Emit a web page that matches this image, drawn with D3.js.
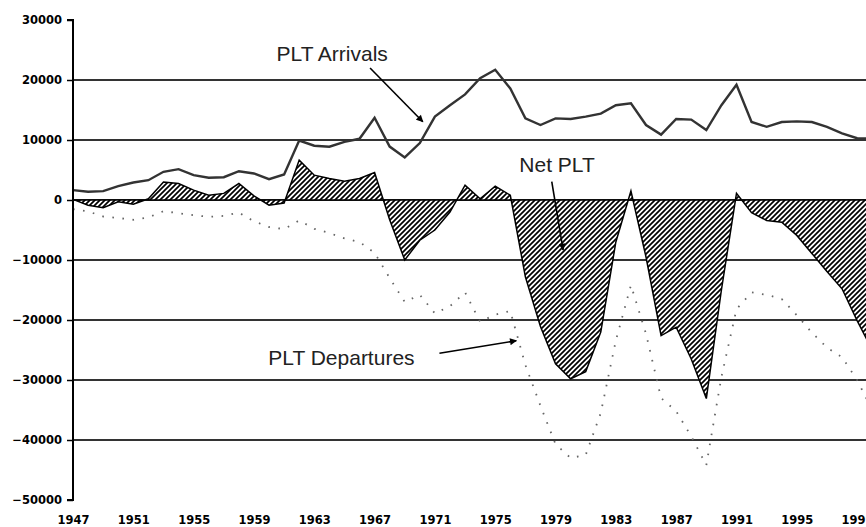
<!DOCTYPE html>
<html>
<head>
<meta charset="utf-8">
<script src="https://cdn.jsdelivr.net/npm/d3@7"></script>
<style>
  body { margin: 0; background: #fff; }
  svg { display: block; }
  .tick text { font-family: "DejaVu Sans", sans-serif; font-weight: bold; font-size: 11.5px; fill: #000; }
  .note { font-family: "Liberation Sans", Arial, sans-serif; font-size: 21px; fill: #222; }
</style>
</head>
<body>
<div id="chart"></div>
<script>
// years 1947..2000, one value per year
var years = d3.range(1947, 2001)

var arrivals = [1640, 1370, 1470, 2300, 2920, 3300, 4700, 5140, 4140, 3700,
  3800, 4800, 4420, 3470, 4250, 9900, 9040, 8880, 9700, 10200,
  13700, 8900, 7100, 9500, 13900, 15800, 17600, 20300, 21700, 18600,
  13600, 12500, 13600, 13500, 13900, 14400, 15800, 16100, 12500, 10900,
  13500, 13400, 11650, 15800, 19200, 13000, 12200, 13000, 13100, 13000,
  12200, 11100, 10300, 10200]

var departures = [-1540, -1900, -2750, -3000, -3300, -2900, -1870, -2200, -2540, -2800,
  -2650, -2100, -3550, -4500, -4850, -3400, -4800, -5500, -6400, -7000,
  -8800, -13000, -17000, -15800, -18900, -17700, -15400, -20300, -19100, -18500,
  -27500, -34300, -40700, -43000, -42500, -35500, -23400, -14200, -22300, -33000,
  -35200, -39400, -44200, -29500, -18200, -15400, -15800, -16500, -19200, -22100,
  -24600, -26200, -30000, -35000]

var netPLT = [100, -870, -1300, -300, -700, 200, 3000, 2750, 1640, 800,
  1100, 2750, 700, -870, -500, 6650, 4140, 3590, 3140, 3590,
  4590, -3300, -10000, -6700, -5000, -2000, 2470, 200, 2300, 800,
  -12800, -21100, -27300, -29800, -28600, -22000, -7000, 1500, -9500, -22600,
  -21200, -26500, -33100, -15000, 1100, -2100, -3400, -3700, -5900, -8900,
  -11900, -14800, -20100, -25000]

var yTicks = [30000, 20000, 10000, 0, -10000, -20000, -30000, -40000, -50000]
var gridValues = [20000, 10000, 0, -10000, -20000, -30000, -40000]
var xTicks = d3.range(1947, 2000, 4)

// labels placed in data units: [year, value]
var notes = [
  { text: 'PLT Arrivals', at: [1960.5, 23170], from: [1966.7, 22000], to: [1970.2, 13050] },
  { text: 'Net PLT', at: [1976.6, 4670], from: [1978.75, 3050], to: [1979.5, -8330] },
  { text: 'PLT Departures', at: [1959.95, -27500], from: [1971.3, -25550], to: [1976.4, -23450] }
]

var width = 866, height = 527

var x = d3.scaleLinear().domain([1947, 2000]).range([73, 872.2])
var y = d3.scaleLinear().domain([-50000, 30000]).range([500, 20])

var svg = d3.select('#chart').append('svg')
  .attr('width', width)
  .attr('height', height)

var defs = svg.append('defs')
var pat = defs.append('pattern')
  .attr('id', 'hatch')
  .attr('patternUnits', 'userSpaceOnUse')
  .attr('width', 5).attr('height', 5)
pat.append('rect').attr('width', 5).attr('height', 5).attr('fill', '#fff')
pat.append('path')
  .attr('d', 'M-1,1 l2,-2 M0,5 l5,-5 M4,6 l2,-2')
  .attr('stroke', '#000').attr('stroke-width', 1.7)

defs.append('marker')
  .attr('id', 'head')
  .attr('viewBox', '0 0 10 10')
  .attr('refX', 9).attr('refY', 5)
  .attr('markerWidth', 9).attr('markerHeight', 7)
  .attr('markerUnits', 'userSpaceOnUse')
  .attr('orient', 'auto')
  .append('path').attr('d', 'M0,0 L10,5 L0,10 z').attr('fill', '#000')

// gridlines
svg.append('g').selectAll('line')
  .data(gridValues)
  .enter().append('line')
  .attr('x1', x(1947)).attr('x2', width)
  .attr('y1', d => y(d)).attr('y2', d => y(d))
  .attr('stroke', '#333').attr('stroke-width', 2)

var rows = years.map((yr, i) => ({ year: yr, a: arrivals[i], d: departures[i], n: netPLT[i] }))

// net area, hatched
svg.append('path')
  .datum(rows)
  .attr('d', d3.area().x(d => x(d.year)).y0(y(0)).y1(d => y(d.n)))
  .attr('fill', 'url(#hatch)')
  .attr('stroke', '#000').attr('stroke-width', 1.5)

// departures, sparse dots
svg.append('path')
  .datum(rows)
  .attr('d', d3.line().x(d => x(d.year)).y(d => y(d.d)))
  .attr('fill', 'none')
  .attr('stroke', '#666').attr('stroke-width', 1.8)
  .attr('stroke-dasharray', '1.6,8.5')

// arrivals
svg.append('path')
  .datum(rows)
  .attr('d', d3.line().x(d => x(d.year)).y(d => y(d.a)))
  .attr('fill', 'none')
  .attr('stroke', '#333').attr('stroke-width', 2.4)

// y axis
var yAxis = svg.append('g')
  .attr('transform', 'translate(' + x(1947) + ',0)')
  .call(d3.axisLeft(y).tickValues(yTicks).tickSize(6).tickPadding(5).tickFormat(d3.format('d')))
yAxis.select('.domain').attr('stroke', '#000').attr('stroke-width', 2).attr('d', 'M-6,' + y(30000) + 'H0V' + y(-50000) + 'H-6')
yAxis.selectAll('.tick line').attr('stroke', '#000').attr('stroke-width', 1.5)

// x axis labels
var xAxis = svg.append('g')
  .attr('transform', 'translate(0,513)')
  .call(d3.axisBottom(x).tickValues(xTicks).tickSize(0).tickPadding(3).tickFormat(d3.format('d')))
xAxis.select('.domain').remove()

// annotations
var g = svg.append('g')
notes.forEach(function (n) {
  g.append('text').attr('class', 'note')
    .attr('x', x(n.at[0])).attr('y', y(n.at[1]))
    .text(n.text)
  g.append('line')
    .attr('x1', x(n.from[0])).attr('y1', y(n.from[1]))
    .attr('x2', x(n.to[0])).attr('y2', y(n.to[1]))
    .attr('stroke', '#000').attr('stroke-width', 1.6)
    .attr('marker-end', 'url(#head)')
})
</script>
</body>
</html>
